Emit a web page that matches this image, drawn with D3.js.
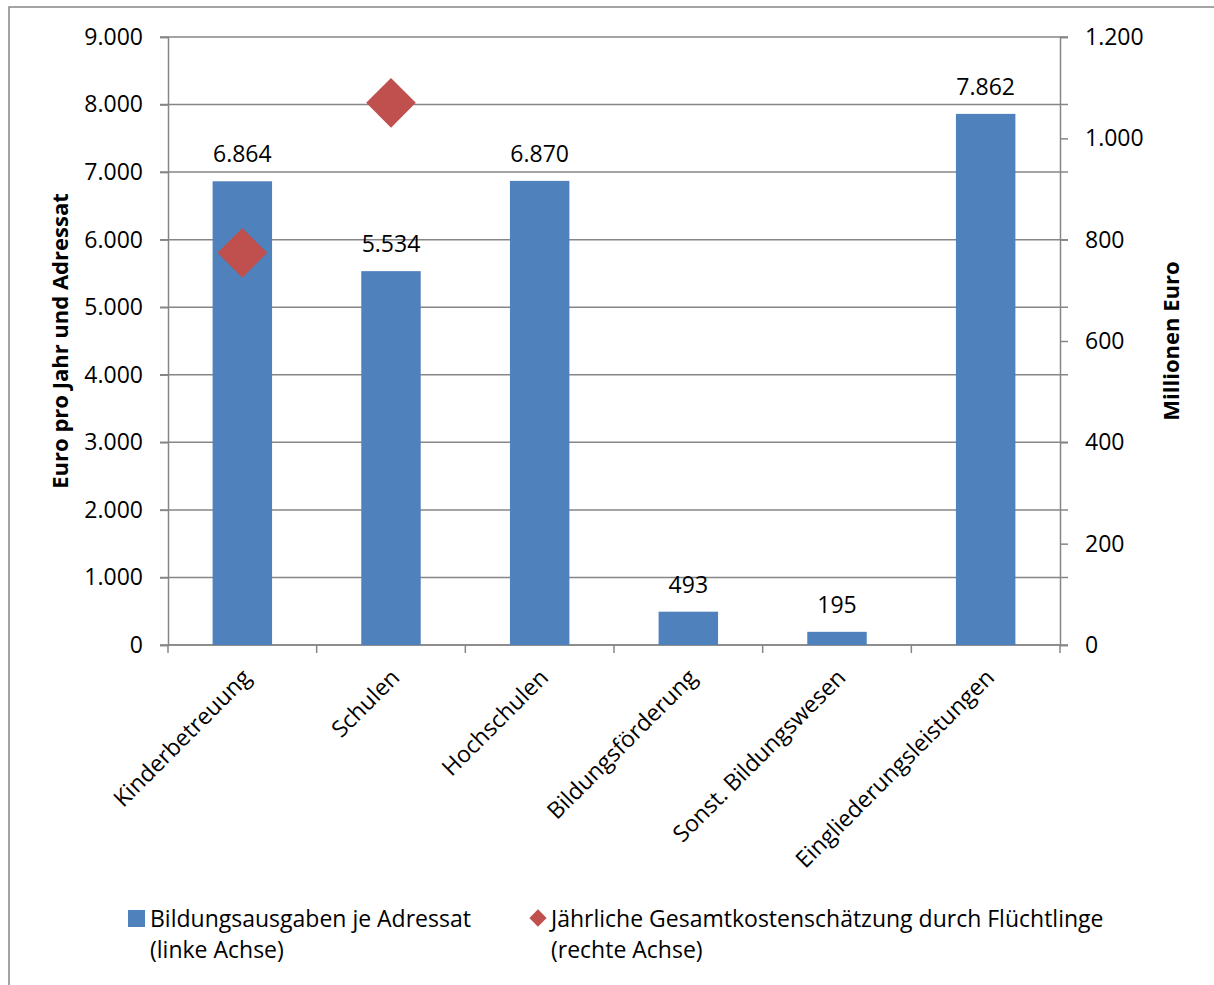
<!DOCTYPE html>
<html>
<head>
<meta charset="utf-8">
<script src="https://cdn.jsdelivr.net/npm/d3@7"></script>
<style>
  body { margin: 0; background: #fff; overflow: hidden; }
  svg { display: block; }
  text { font-family: "Open Sans", "Noto Sans", sans-serif; fill: #000; }
</style>
</head>
<body>
<svg id="chart"></svg>
<script>
const categories = ['Kinderbetreuung', 'Schulen', 'Hochschulen', 'Bildungsförderung', 'Sonst. Bildungswesen', 'Eingliederungsleistungen'];
const ausgabenJeAdressat = [6864, 5534, 6870, 493, 195, 7862];
// right axis, only two categories have a value
const gesamtkosten = [774, 1070, null, null, null, null];
const leftTicks = [0, 1000, 2000, 3000, 4000, 5000, 6000, 7000, 8000, 9000];
const rightTicks = [0, 200, 400, 600, 800, 1000, 1200];

const width = 1214, height = 985;
const plotLeft = 168, plotRight = 1060, plotTop = 37, plotBottom = 645;
const axisColor = '#868686';
const barColor = '#4F81BD';
const pointColor = '#C0504D';
const fontSize = 23;

const fmt = d3.formatLocale({ decimal: ',', thousands: '.', grouping: [3], currency: ['', '€'] }).format(',d');

const svg = d3.select('#chart')
  .attr('width', width)
  .attr('height', height);

// outer chart frame
svg.append('rect')
  .attr('x', 9).attr('y', 7)
  .attr('width', width + 10).attr('height', height + 10)
  .attr('fill', 'none')
  .attr('stroke', axisColor)
  .attr('stroke-width', 1.5);

const x = d3.scaleBand()
  .domain(categories)
  .range([plotLeft, plotRight])
  .padding(0);

const yLeft = d3.scaleLinear()
  .domain([0, 9000])
  .range([plotBottom, plotTop]);

const yRight = d3.scaleLinear()
  .domain([0, 1200])
  .range([plotBottom, plotTop]);

// gridlines
svg.append('g')
  .selectAll('line')
  .data(leftTicks)
  .enter()
  .append('line')
  .attr('x1', plotLeft - 8)
  .attr('x2', plotRight + 8)
  .attr('y1', d => yLeft(d))
  .attr('y2', d => yLeft(d))
  .attr('stroke', axisColor)
  .attr('stroke-width', 1.5);

// left axis
const leftAxis = svg.append('g')
  .attr('transform', `translate(${plotLeft},0)`)
  .call(d3.axisLeft(yLeft).tickValues(leftTicks).tickFormat(fmt).tickSize(8).tickPadding(17));
leftAxis.select('.domain').attr('stroke', axisColor).attr('stroke-width', 1.5);
leftAxis.selectAll('.tick line').attr('stroke', axisColor).attr('stroke-width', 1.5);
leftAxis.selectAll('.tick text').attr('font-size', fontSize).attr('font-family', '"Open Sans", sans-serif').attr('fill', '#000');

// right axis
const rightAxis = svg.append('g')
  .attr('transform', `translate(${plotRight},0)`)
  .call(d3.axisRight(yRight).tickValues(rightTicks).tickFormat(fmt).tickSize(8).tickPadding(17));
rightAxis.select('.domain').attr('stroke', axisColor).attr('stroke-width', 1.5);
rightAxis.selectAll('.tick line').attr('stroke', axisColor).attr('stroke-width', 1.5);
rightAxis.selectAll('.tick text').attr('font-size', fontSize).attr('font-family', '"Open Sans", sans-serif').attr('fill', '#000');

// bottom axis: ticks between categories, labels rotated
svg.append('line')
  .attr('x1', plotLeft).attr('x2', plotRight)
  .attr('y1', plotBottom).attr('y2', plotBottom)
  .attr('stroke', axisColor).attr('stroke-width', 1.5);

const edges = categories.map(c => x(c)).concat([x(categories[categories.length - 1]) + x.bandwidth()]);
svg.append('g')
  .selectAll('line')
  .data(edges)
  .enter()
  .append('line')
  .attr('x1', d => d).attr('x2', d => d)
  .attr('y1', plotBottom).attr('y2', plotBottom + 8)
  .attr('stroke', axisColor).attr('stroke-width', 1.5);

svg.append('g')
  .selectAll('text')
  .data(categories)
  .enter()
  .append('text')
  .attr('transform', d => `translate(${x(d) + x.bandwidth() / 2 + 10},${plotBottom + 34}) rotate(-45)`)
  .attr('text-anchor', 'end')
  .attr('font-size', fontSize)
  .text(d => d);

// bars
const barWidth = x.bandwidth() * 0.4;
svg.append('g')
  .selectAll('rect')
  .data(categories)
  .enter()
  .append('rect')
  .attr('x', d => x(d) + (x.bandwidth() - barWidth) / 2)
  .attr('y', (d, i) => yLeft(ausgabenJeAdressat[i]))
  .attr('width', barWidth)
  .attr('height', (d, i) => plotBottom - yLeft(ausgabenJeAdressat[i]))
  .attr('fill', barColor);

// bar value labels
svg.append('g')
  .selectAll('text')
  .data(categories)
  .enter()
  .append('text')
  .attr('x', d => x(d) + x.bandwidth() / 2)
  .attr('y', (d, i) => yLeft(ausgabenJeAdressat[i]) - 19)
  .attr('text-anchor', 'middle')
  .attr('font-size', fontSize)
  .text((d, i) => fmt(ausgabenJeAdressat[i]));

// diamonds on right axis
const diamond = d3.symbol().type(d3.symbolDiamond2).size(1570);
svg.append('g')
  .selectAll('path')
  .data(categories.map((c, i) => ({ c, v: gesamtkosten[i] })).filter(d => d.v != null))
  .enter()
  .append('path')
  .attr('d', diamond)
  .attr('transform', d => `translate(${x(d.c) + x.bandwidth() / 2},${yRight(d.v)})`)
  .attr('fill', pointColor);

// axis titles
svg.append('text')
  .attr('transform', `translate(68,${(plotTop + plotBottom) / 2}) rotate(-90)`)
  .attr('text-anchor', 'middle')
  .attr('font-size', 22)
  .attr('font-weight', 'bold')
  .text('Euro pro Jahr und Adressat');

svg.append('text')
  .attr('transform', `translate(1179,${(plotTop + plotBottom) / 2}) rotate(-90)`)
  .attr('text-anchor', 'middle')
  .attr('font-size', 22)
  .attr('font-weight', 'bold')
  .text('Millionen Euro');

// legend
const legend = svg.append('g');
legend.append('rect')
  .attr('x', 128).attr('y', 910)
  .attr('width', 17).attr('height', 17)
  .attr('fill', barColor);
legend.append('text')
  .attr('x', 150).attr('y', 927)
  .attr('font-size', fontSize)
  .text('Bildungsausgaben je Adressat');
legend.append('text')
  .attr('x', 150).attr('y', 958)
  .attr('font-size', fontSize)
  .text('(linke Achse)');

legend.append('path')
  .attr('d', d3.symbol().type(d3.symbolDiamond2).size(190))
  .attr('transform', 'translate(538,918)')
  .attr('fill', pointColor);
legend.append('text')
  .attr('x', 551).attr('y', 927)
  .attr('font-size', fontSize)
  .text('Jährliche Gesamtkostenschätzung durch Flüchtlinge');
legend.append('text')
  .attr('x', 551).attr('y', 958)
  .attr('font-size', fontSize)
  .text('(rechte Achse)');
</script>
</body>
</html>
